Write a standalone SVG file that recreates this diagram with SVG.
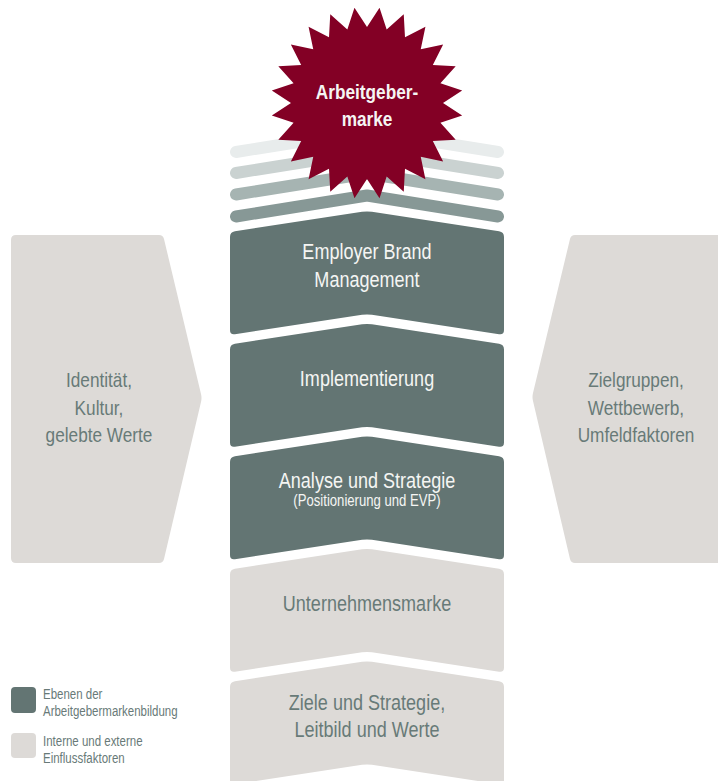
<svg xmlns="http://www.w3.org/2000/svg" xmlns:xlink="http://www.w3.org/1999/xlink" width="718" height="781" viewBox="0 0 718 781">
<style>
.t{font-family:"Liberation Sans",Arial,sans-serif;text-anchor:middle}
.w{fill:#f5f5f3}
.g{fill:#687a78}
.dark{fill:#637573}
.light{fill:#dddad7}
.big{font-size:22px}
.side{font-size:21px}
.small{font-size:16px}
.leg{font-family:"Liberation Sans",Arial,sans-serif;font-size:14px;fill:#687a78}
.stripe{fill:none;stroke-width:12;stroke-linecap:round;stroke-linejoin:round}
</style>
<defs>
<path id="chev" d="M230,5 Q230,0 234.94,-0.76 L362.06,-20.24 Q367,-21 371.94,-20.24 L499.06,-0.76 Q504,0 504,5 L504,98 Q504,103 499.06,102.24 L371.94,82.76 Q367,82 362.06,82.76 L234.94,102.24 Q230,103 230,98 Z"/>
</defs>
<g id="stripes">
<polyline class="stripe" stroke="#e8ecec" points="236,152 367,131 498,152"/>
<polyline class="stripe" stroke="#cad2d1" points="236,173 367,152 498,173"/>
<polyline class="stripe" stroke="#a6b4b2" points="236,194.5 367,173.5 498,194.5"/>
<polyline class="stripe" stroke="#879896" points="236,216.5 367,195.5 498,216.5"/>
</g>
<g id="arbeitgebermarke">
<polygon fill="#830025" points="367,27 379.53,7.82 386.67,29.59 403.74,14.31 405,37.18 425.44,26.84 420.74,49.26 443.16,44.56 432.82,65 455.69,66.26 440.41,83.33 462.18,90.47 443,103 462.18,115.53 440.41,122.67 455.69,139.74 432.82,141 443.16,161.44 420.74,156.74 425.44,179.16 405,168.82 403.74,191.69 386.67,176.41 379.53,198.18 367,179 354.47,198.18 347.33,176.41 330.26,191.69 329,168.82 308.56,179.16 313.26,156.74 290.84,161.44 301.18,141 278.31,139.74 293.59,122.67 271.82,115.53 291,103 271.82,90.47 293.59,83.33 278.31,66.26 301.18,65 290.84,44.56 313.26,49.26 308.56,26.84 329,37.18 330.26,14.31 347.33,29.59 354.47,7.82"/>
<text class="t w" font-size="21" font-weight="bold" transform="translate(367 99) scale(0.82 1)">Arbeitgeber-</text>
<text class="t w" font-size="21" font-weight="bold" transform="translate(367 126) scale(0.82 1)">marke</text>
</g>
<g id="employer-brand-management">
<use xlink:href="#chev" class="dark" y="232"/>
<text class="t w big" transform="translate(367 259) scale(0.82 1)">Employer Brand</text>
<text class="t w big" transform="translate(367 287) scale(0.82 1)">Management</text>
</g>
<g id="implementierung">
<use xlink:href="#chev" class="dark" y="344.5"/>
<text class="t w big" transform="translate(367 385.5) scale(0.82 1)">Implementierung</text>
</g>
<g id="analyse-strategie">
<use xlink:href="#chev" class="dark" y="457"/>
<text class="t w big" transform="translate(367 488) scale(0.82 1)">Analyse und Strategie</text>
<text class="t w small" transform="translate(367 506) scale(0.82 1)">(Positionierung und EVP)</text>
</g>
<g id="unternehmensmarke">
<use xlink:href="#chev" class="light" y="569.5"/>
<text class="t g big" transform="translate(367 610.5) scale(0.82 1)">Unternehmensmarke</text>
</g>
<g id="ziele-strategie">
<use xlink:href="#chev" class="light" y="682"/>
<text class="t g big" transform="translate(367 710) scale(0.82 1)">Ziele und Strategie,</text>
<text class="t g big" transform="translate(367 737) scale(0.82 1)">Leitbild und Werte</text>
</g>
<g id="identitaet">
<path class="light" d="M11,240 Q11,235 16,235 L159,235 Q163,235 164,239 L201,394 Q202,398 201,402 L164,559 Q163,563 159,563 L16,563 Q11,563 11,558 Z"/>
<text class="t g side" transform="translate(99 387) scale(0.82 1)">Identität,</text>
<text class="t g side" transform="translate(99 414.5) scale(0.82 1)">Kultur,</text>
<text class="t g side" transform="translate(99 442) scale(0.82 1)">gelebte Werte</text>
</g>
<g id="zielgruppen">
<path class="light" d="M575,235 L730,235 L730,563 L575,563 Q571,563 570,559 L533,401 Q532,397 533,393 L570,239 Q571,235 575,235 Z"/>
<text class="t g side" transform="translate(636 387) scale(0.82 1)">Zielgruppen,</text>
<text class="t g side" transform="translate(636 414.5) scale(0.82 1)">Wettbewerb,</text>
<text class="t g side" transform="translate(636 442) scale(0.82 1)">Umfeldfaktoren</text>
</g>
<g id="legend">
<rect class="dark" x="11" y="687" width="25" height="26" rx="4"/>
<rect class="light" x="11" y="733" width="25" height="25" rx="4"/>
<text class="leg" transform="translate(43 699) scale(0.82 1)">Ebenen der</text>
<text class="leg" transform="translate(43 716) scale(0.82 1)">Arbeitgebermarkenbildung</text>
<text class="leg" transform="translate(43 746) scale(0.82 1)">Interne und externe</text>
<text class="leg" transform="translate(43 763) scale(0.82 1)">Einflussfaktoren</text>
</g>
</svg>
